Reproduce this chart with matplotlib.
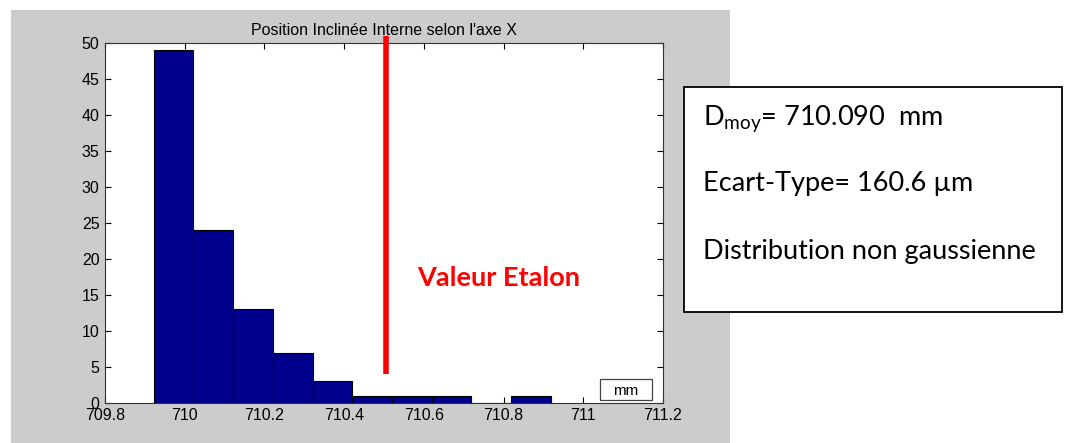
import matplotlib
matplotlib.use("Agg")
import matplotlib.pyplot as plt
from matplotlib.patches import Rectangle
import numpy as np

# histogram
bin_edges = [709.922, 710.022, 710.121, 710.221, 710.321, 710.420,
             710.520, 710.620, 710.719, 710.819, 710.919]
counts = [49, 24, 13, 7, 3, 1, 1, 1, 0, 1]
etalon = 710.505
etalon_span = [4, 51]

x_ticks = [709.8, 710, 710.2, 710.4, 710.6, 710.8, 711, 711.2]
x_labels = ["709.8", "710", "710.2", "710.4", "710.6", "710.8", "711", "711.2"]
y_ticks = list(range(0, 55, 5))

title = "Position Inclinée Interne selon l'axe X"
stats_lines = [
    r"D$_{\mathregular{moy}}$= 710.090  mm",
    "Ecart-Type= 160.6 \u00b5m",
    "Distribution non gaussienne",
]

W, H = 1067, 443
fig = plt.figure(figsize=(W / 100, H / 100), dpi=100)
fig.patch.set_facecolor("white")

# grey matlab figure panel
fig.patches.append(Rectangle((11 / W, 0), (730 - 11) / W, 1 - 10 / H,
                             transform=fig.transFigure, facecolor="#cccccc",
                             edgecolor="none", zorder=-2))

ax = fig.add_axes([105 / W, 1 - 403 / H, (663 - 105) / W, (403 - 43) / H])
ax.set_facecolor("white")

edges = np.array(bin_edges)
ax.bar(edges[:-1], counts, width=np.diff(edges), align="edge",
       color="#00008f", edgecolor="black", linewidth=0.8, zorder=2)

ax.plot([etalon, etalon], etalon_span, color="red", linewidth=4,
        solid_capstyle="butt", clip_on=False, zorder=5)
ax.text(710.583, 17.4, "Valeur Etalon", color="red", fontsize=19.5,
        fontweight="bold", family=["Lato", "DejaVu Sans"],
        ha="left", va="center")

ax.set_xlim(709.8, 711.2)
ax.set_ylim(0, 50)
ax.set_xticks(x_ticks)
ax.set_xticklabels(x_labels)
ax.set_yticks(y_ticks)
ax.tick_params(direction="in", top=True, right=True, length=4,
               labelsize=11.5, width=0.8, colors="black")
ax.tick_params(axis="x", pad=3.5)
ax.tick_params(axis="y", pad=4)
for lab in ax.get_xticklabels() + ax.get_yticklabels():
    lab.set_family("Liberation Sans")
for s in ax.spines.values():
    s.set_linewidth(0.8)
    s.set_color("#333333")

ax.set_title(title, fontsize=11.5, family="Liberation Sans", pad=6)

# little unit box in the corner
ax.add_patch(Rectangle((0.887, 0.0083), 0.0932, 0.0583, transform=ax.transAxes,
                       facecolor="white", edgecolor="#444444", linewidth=0.9,
                       zorder=6))
ax.text(0.9335, 0.034, "mm", transform=ax.transAxes, fontsize=11,
        family="Liberation Sans", ha="center", va="center", zorder=7)

# statistics box
fig.patches.append(Rectangle((684 / W, 1 - 312 / H), (1062 - 684) / W,
                             (312 - 87) / H, transform=fig.transFigure,
                             facecolor="white", edgecolor="black",
                             linewidth=1.3, zorder=3))
for txt, yc in zip(stats_lines, [118, 184, 252]):
    fig.text(703 / W, 1 - yc / H, txt, fontsize=19.5,
             family=["Lato", "DejaVu Sans"], ha="left", va="center",
             zorder=4)

fig.savefig("out.png", dpi=100)
